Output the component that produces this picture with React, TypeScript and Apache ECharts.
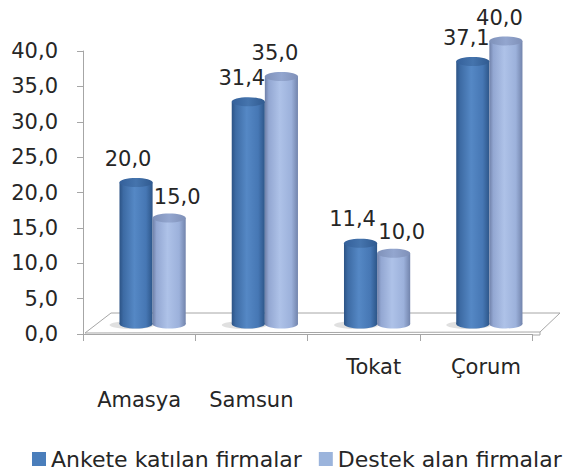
import React, { useEffect, useRef } from "react";
import * as echarts from "echarts";

const categories = ["Amasya", "Samsun", "Tokat", "Çorum"];
const seriesNames = ["Ankete katılan firmalar", "Destek alan firmalar"];
const surveyed = [20.0, 31.4, 11.4, 37.1];
const supported = [15.0, 35.0, 10.0, 40.0];
const yTicks = { min: 0, max: 40, interval: 5 };

const FONT = "DejaVu Sans";
const TEXT = "#262626";
const AXIS = "#a6a6a6";

const palettes = [
  {
    legend: "#4a7ebb",
    body: [
      [0, "#2c5385"],
      [0.12, "#3d6ba4"],
      [0.45, "#5588c5"],
      [0.8, "#4677b4"],
      [1, "#2d5689"],
    ],
    top: [
      [0, "#34609a"],
      [0.5, "#4574ad"],
      [1, "#305a90"],
    ],
  },
  {
    legend: "#9bb4dc",
    body: [
      [0, "#6f80a8"],
      [0.12, "#93a7d2"],
      [0.45, "#aec2e8"],
      [0.8, "#9cb1db"],
      [1, "#7284ac"],
    ],
    top: [
      [0, "#7f91b9"],
      [0.5, "#93a6cf"],
      [1, "#7f90b8"],
    ],
  },
];

const allSeries = [surveyed, supported];

function grad(stops: any[]) {
  return new echarts.graphic.LinearGradient(
    0,
    0,
    1,
    0,
    stops.map(([offset, color]) => ({ offset, color }))
  );
}

function makeRender(si: number) {
  const pal = palettes[si];
  return (params: any, api: any) => {
    const idx = api.value(0);
    const val = api.value(1);
    const bw = api.size([1, 0])[0];
    const c = api.coord([idx, 0]);
    const t = api.coord([idx, val]);
    const dx = bw * 0.12;
    const dy = -10;
    const w = bw * 0.295;
    const cx = c[0] + dx + (si === 0 ? -w / 2 : w / 2);
    const base = c[1] + dy;
    const top = t[1] + dy;
    const ry = 4.5;
    const label = val.toFixed(1).replace(".", ",");
    const lightLower = allSeries[1][idx] < allSeries[0][idx];
    let lx: number;
    let ly: number;
    if (si === 0) {
      lx = cx + (lightLower ? -8 : -6.5);
      ly = top - 24;
    } else {
      lx = cx + (lightLower ? 8 : -6.5);
      ly = top - (lightLower ? 21 : 23);
    }
    const children: any[] = [];
    if (si === 0) {
      children.push({
        type: "ellipse",
        shape: { cx: cx - 4, cy: base + 1, rx: w / 2 + 6, ry: 4 },
        style: { fill: "rgba(0,0,0,0.12)" },
        z2: 0,
      });
    }
    children.push(
      {
        type: "ellipse",
        shape: { cx, cy: base, rx: w / 2, ry },
        style: { fill: grad(pal.body) },
        z2: 1,
      },
      {
        type: "rect",
        shape: { x: cx - w / 2, y: top, width: w, height: base - top },
        style: { fill: grad(pal.body) },
        z2: 2,
      },
      {
        type: "ellipse",
        shape: { cx, cy: top, rx: w / 2, ry },
        style: { fill: grad(pal.top) },
        z2: 3,
      },
      {
        type: "text",
        x: lx,
        y: ly,
        style: {
          text: label,
          fill: TEXT,
          font: `21px "${FONT}"`,
          align: "center",
          verticalAlign: "middle",
        },
        z2: 10,
      }
    );
    return { type: "group", children };
  };
}

export default function App() {
  const ref = useRef<HTMLDivElement>(null);
  useEffect(() => {
    if (!ref.current) return;
    const chart = echarts.init(ref.current, null, { renderer: "svg" });
    chart.setOption({
      animation: false,
      backgroundColor: "#ffffff",
      textStyle: { fontFamily: FONT, color: TEXT },
      grid: { left: 83, right: 31, top: 51, bottom: 141 },
      legend: {
        left: 32,
        top: 448,
        padding: 0,
        itemWidth: 14,
        itemHeight: 14,
        itemGap: 17,
        icon: "rect",
        textStyle: { fontSize: 22, fontFamily: FONT, color: TEXT },
        data: seriesNames,
      },
      graphic: [
        {
          type: "polygon",
          z: 0,
          shape: {
            points: [
              [85, 333],
              [111, 313],
              [560, 313],
              [540, 332],
            ],
          },
          style: { fill: "#ffffff", stroke: AXIS, lineWidth: 1 },
        },
        {
          type: "polyline",
          z: 0,
          shape: {
            points: [
              [532, 335],
              [540, 335],
              [540, 332],
            ],
          },
          style: { fill: "none", stroke: AXIS, lineWidth: 1 },
        },
      ],
      xAxis: {
        type: "category",
        data: categories,
        boundaryGap: true,
        axisLine: { show: true, lineStyle: { color: AXIS } },
        axisTick: { show: true, length: 7, interval: 0, lineStyle: { color: AXIS } },
        splitLine: { show: false },
        axisLabel: {
          interval: 0,
          margin: 21,
          color: TEXT,
          fontFamily: FONT,
          fontSize: 21,
          formatter: (v: string, i: number) => (i < 2 ? `{lo|${v}}` : `{hi|${v}}`),
          rich: {
            lo: { fontSize: 21, fontFamily: FONT, color: TEXT, lineHeight: 24, padding: [66, 0, 0, 0] },
            hi: { fontSize: 21, fontFamily: FONT, color: TEXT, lineHeight: 24, padding: [0, 0, 0, 20] },
          },
        },
      },
      yAxis: {
        type: "value",
        min: yTicks.min,
        max: yTicks.max,
        interval: yTicks.interval,
        axisLine: { show: true, lineStyle: { color: AXIS } },
        axisTick: { show: true, length: 6, lineStyle: { color: AXIS } },
        splitLine: { show: false },
        axisLabel: {
          margin: 25,
          color: TEXT,
          fontFamily: FONT,
          fontSize: 21,
          formatter: (v: number) => v.toFixed(1).replace(".", ","),
        },
      },
      series: allSeries.map((vals, si) => ({
        type: "custom",
        name: seriesNames[si],
        z: 5,
        itemStyle: { color: palettes[si].legend },
        encode: { x: 0, y: 1 },
        data: vals.map((v, i) => [i, v]),
        renderItem: makeRender(si),
      })),
    });
    return () => chart.dispose();
  }, []);
  return (
    <div
      ref={ref}
      style={{ position: "fixed", left: 0, top: 0, width: 563, height: 475 }}
    />
  );
}
